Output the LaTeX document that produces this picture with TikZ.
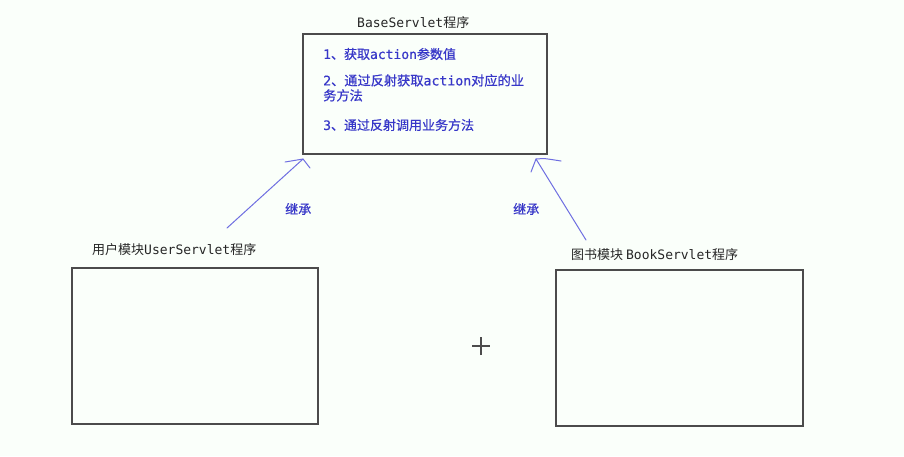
\documentclass[tikz,border=0pt]{standalone}
\usepackage{fontspec}
\setmainfont{Noto Sans CJK SC}
\newfontfamily\latfont{DejaVu Sans Mono}
\newfontfamily\bluefont{Noto Sans CJK SC}[FakeBold=0.6]
\newfontfamily\bluelat{DejaVu Sans Mono}[FakeBold=0.6]
\newcommand\lt[1]{{\latfont #1}}
\newcommand\blt[1]{{\bluelat #1}}
\definecolor{textblue}{RGB}{55,55,200}
\definecolor{lineblue}{RGB}{110,110,225}
\definecolor{boxgray}{RGB}{75,75,75}
\tikzset{
  box/.style={draw=boxgray, line width=1.6pt, anchor=north west, inner sep=0pt},
  title/.style={anchor=west, inner sep=0pt, font=\fontsize{13}{15}\selectfont, text=black!85},
  item/.style={anchor=west, inner sep=0pt, font=\bluefont\fontsize{13}{15}\selectfont, text=textblue},
  inherit/.style={draw=lineblue, line width=1pt, line cap=round, line join=round}
}

\begin{document}
\begin{tikzpicture}[x=1pt, y=-1pt]
  \fill[white!98!green] (0,0) rectangle (904,456);
  \useasboundingbox (0,0) rectangle (904,456);

  % parent class
  \node[box, minimum width=244pt, minimum height=120pt] (base) at (302,33) {};
  \node[title] (baseTitle) at (357,23) {\lt{BaseServlet}程序};
  \node[item] (step1) at (323,54) {\blt{1}、获取\blt{action}参数值};
  \node[item, anchor=north west, align=left, font=\bluefont\fontsize{13.2}{15}\selectfont] (step2) at (323,74)
    {\blt{2}、通过反射获取\blt{action}对应的业\\务方法};
  \node[item] (step3) at (323,125) {\blt{3}、通过反射调用业务方法};

  % sub classes
  \node[box, minimum width=246pt, minimum height=156pt] (user) at (71,267) {};
  \node[title] (userTitle) at (92,250) {用户模块\lt{UserServlet}程序};
  \node[box, minimum width=247pt, minimum height=156pt] (book) at (555,269) {};
  \node[title] (bookTitle) at (571,255) {图书模块 \lt{BookServlet}程序};

  % inheritance arrows
  \coordinate (userTail) at (227,228);
  \coordinate (userTip) at (303,159);
  \coordinate (bookTail) at (586,240);
  \coordinate (bookTip) at (536,159);
  \draw[inherit] (userTail) -- (userTip);
  \draw[inherit] ([shift={(-18,3)}]userTip) -- (userTip) -- ([shift={(7,9)}]userTip);
  \draw[inherit] (bookTail) -- (bookTip);
  \draw[inherit] ([shift={(-5,13)}]bookTip) -- (bookTip) .. controls ([shift={(6,-1)}]bookTip) .. ([shift={(25,2)}]bookTip);
  \node[item] (userLabel) at (285,209) {继承};
  \node[item] (bookLabel) at (513,209) {继承};

  % mouse cursor
  \coordinate (cursor) at (481,346);
  \draw[black!70, line width=1.3pt] ([xshift=-9]cursor) -- ([xshift=9]cursor)
    ([yshift=-9]cursor) -- ([yshift=9]cursor);
\end{tikzpicture}
\end{document}
